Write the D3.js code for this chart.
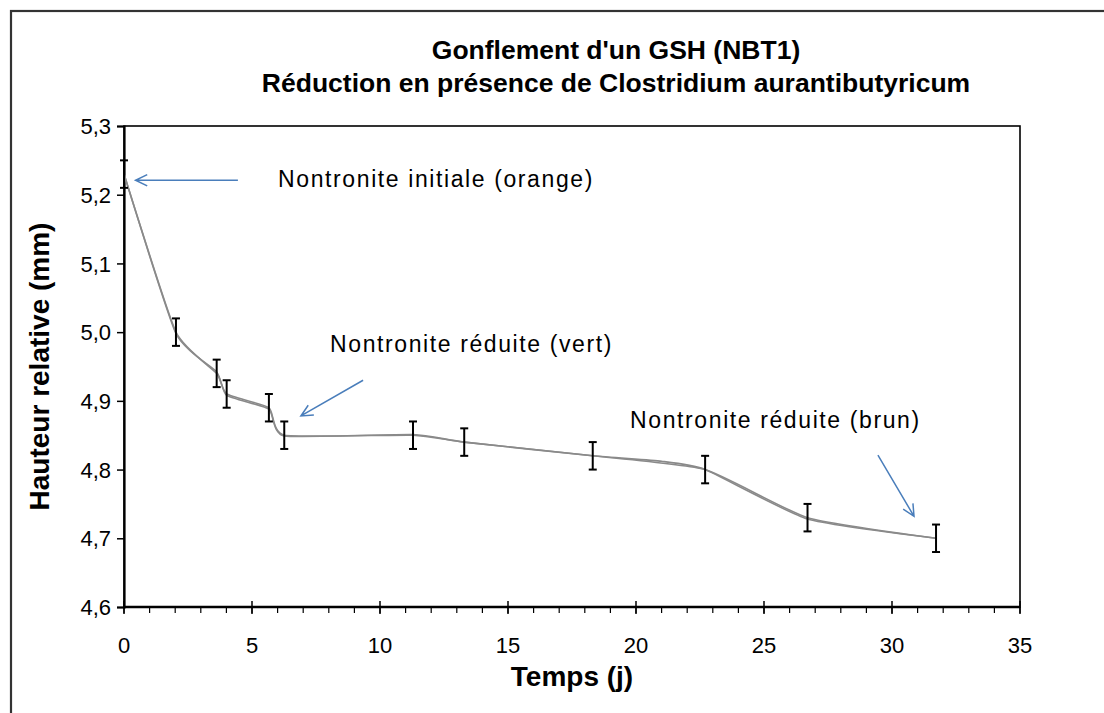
<!DOCTYPE html>
<html>
<head>
<meta charset="utf-8">
<script src="https://cdn.jsdelivr.net/npm/d3@7"></script>
<style>
  body { margin: 0; background: #fff; }
  svg { display: block; }
  text { font-family: "Liberation Sans", Arial, sans-serif; fill: #000; }
</style>
</head>
<body>
<svg id="chart" width="1104" height="713"></svg>
<script>
// Temps (jours) et hauteur relative (mm) des deux mesures
const tempsA   = [0, 2.03, 3.62, 4.01, 5.66, 6.26, 11.29, 13.29, 18.31, 22.7, 26.7, 31.72];
const hauteurA = [5.23, 5.00, 4.94, 4.91, 4.89, 4.85, 4.85, 4.84, 4.82, 4.80, 4.73, 4.70];
const ecartA   = [0.02, 0.02, 0.02, 0.02, 0.02, 0.02, 0.02, 0.02, 0.02, 0.02, 0.02, 0.02];

const tempsB   = [0, 2.03, 3.62, 4.01, 5.66, 6.26, 11.29, 13.29, 18.31, 21.0, 22.7, 26.7, 31.72];
const hauteurB = [5.23, 4.998, 4.942, 4.908, 4.888, 4.849, 4.851, 4.84, 4.82, 4.812, 4.80, 4.728, 4.70];

const xTicks = [0, 5, 10, 15, 20, 25, 30, 35];
const xMinorTicks = d3.range(0, 36, 1);
const yTicks = [4.6, 4.7, 4.8, 4.9, 5.0, 5.1, 5.2, 5.3];

const titre = ["Gonflement d'un GSH (NBT1)", "Réduction en présence de Clostridium aurantibutyricum"];
const titreX = "Temps (j)";
const titreY = "Hauteur relative (mm)";

// Annotations : texte et flèche, en unités des axes
const annotations = [
  { texte: "Nontronite initiale (orange)", tx: 6.02, ty: 5.211, from: [4.45, 5.221], to: [0.45, 5.221] },
  { texte: "Nontronite réduite (vert)",    tx: 8.05, ty: 4.971, from: [9.34, 4.930], to: [6.91, 4.878] },
  { texte: "Nontronite réduite (brun)",    tx: 19.77, ty: 4.861, from: [29.45, 4.821], to: [30.86, 4.732] }
];

const svg = d3.select("#chart");
const W = 1104, H = 713;
const plot = { left: 124, right: 1020, top: 126, bottom: 607 };

const x = d3.scaleLinear().domain([0, 35]).range([plot.left, plot.right]);
const y = d3.scaleLinear().domain([4.6, 5.3]).range([plot.bottom, plot.top]);

// Cadre du graphique
svg.append("rect")
  .attr("x", 11).attr("y", 11)
  .attr("width", W + 50).attr("height", H + 50)
  .attr("fill", "none").attr("stroke", "#333").attr("stroke-width", 2.2);

// Titre
svg.append("text")
  .attr("text-anchor", "middle")
  .attr("font-size", 26.5).attr("font-weight", "bold")
  .selectAll("tspan").data(titre).join("tspan")
  .attr("x", 616).attr("y", (d, i) => 59 + i * 33)
  .text(d => d);

// Bordure de la zone de tracé
svg.append("rect")
  .attr("x", plot.left).attr("y", plot.top)
  .attr("width", plot.right - plot.left).attr("height", plot.bottom - plot.top)
  .attr("fill", "none").attr("stroke", "#000").attr("stroke-width", 1.6);

// Axe Y
const yAxis = d3.axisLeft(y).tickValues(yTicks).tickSize(7).tickPadding(6)
  .tickFormat(d => d3.format(".1f")(d).replace(".", ","));
const gy = svg.append("g").attr("transform", `translate(${plot.left},0)`).call(yAxis);
gy.select(".domain").attr("stroke-width", 2.2);
gy.selectAll(".tick line").attr("stroke-width", 1.5);
gy.selectAll(".tick text").attr("font-size", 22).attr("dy", "0.35em")
  .attr("font-family", "Liberation Sans, Arial, sans-serif");

// Axe X : graduations secondaires vers le bas, principales de part et d'autre
const gx = svg.append("g").attr("transform", `translate(0,${plot.bottom})`);
gx.selectAll("line.minor").data(xMinorTicks).join("line")
  .attr("class", "minor")
  .attr("x1", d => x(d)).attr("x2", d => x(d))
  .attr("y1", 0).attr("y2", 6)
  .attr("stroke", "#000").attr("stroke-width", 1.2);
gx.selectAll("line.major").data(xTicks).join("line")
  .attr("class", "major")
  .attr("x1", d => x(d)).attr("x2", d => x(d))
  .attr("y1", -6).attr("y2", 7)
  .attr("stroke", "#000").attr("stroke-width", 1.5);
gx.append("line")
  .attr("x1", plot.left).attr("x2", plot.right)
  .attr("stroke", "#000").attr("stroke-width", 2.5);
gx.selectAll("text.tick").data(xTicks).join("text")
  .attr("class", "tick")
  .attr("x", d => x(d)).attr("y", 46)
  .attr("text-anchor", "middle").attr("font-size", 22)
  .text(d => d);

// Titres des axes
svg.append("text")
  .attr("x", (plot.left + plot.right) / 2).attr("y", 686)
  .attr("text-anchor", "middle").attr("font-size", 28).attr("font-weight", "bold")
  .text(titreX);
svg.append("text")
  .attr("transform", `translate(49,${(plot.top + plot.bottom) / 2}) rotate(-90)`)
  .attr("text-anchor", "middle").attr("font-size", 28).attr("font-weight", "bold")
  .text(titreY);

// Courbes lissées
const line = d3.line().x(d => x(d[0])).y(d => y(d[1])).curve(d3.curveCardinal.tension(0.5));
const ptsA = tempsA.map((t, i) => [t, hauteurA[i]]);
const ptsB = tempsB.map((t, i) => [t, hauteurB[i]]);
svg.append("path").datum(ptsB).attr("d", line)
  .attr("fill", "none").attr("stroke", "#8a8a8a").attr("stroke-width", 1.6);
svg.append("path").datum(ptsA).attr("d", line)
  .attr("fill", "none").attr("stroke", "#8a8a8a").attr("stroke-width", 1.6);

// Barres d'erreur
const eb = svg.append("g").attr("stroke", "#000").attr("stroke-width", 2);
tempsA.forEach((t, i) => {
  const cx = x(t), y1 = y(hauteurA[i] - ecartA[i]), y2 = y(hauteurA[i] + ecartA[i]);
  eb.append("line").attr("x1", cx).attr("x2", cx).attr("y1", y1).attr("y2", y2);
  eb.append("line").attr("x1", cx - 4).attr("x2", cx + 4).attr("y1", y1).attr("y2", y1);
  eb.append("line").attr("x1", cx - 4).attr("x2", cx + 4).attr("y1", y2).attr("y2", y2);
});

// Annotations fléchées
const ga = svg.append("g");
annotations.forEach(a => {
  ga.append("text").attr("x", x(a.tx)).attr("y", y(a.ty))
    .attr("font-size", 23).attr("letter-spacing", 1.6).text(a.texte);
  const x1 = x(a.from[0]), y1 = y(a.from[1]), x2 = x(a.to[0]), y2 = y(a.to[1]);
  const ang = Math.atan2(y2 - y1, x2 - x1), L = 13, spread = 0.45;
  const p = d3.path();
  p.moveTo(x1, y1); p.lineTo(x2, y2);
  p.moveTo(x2 - L * Math.cos(ang - spread), y2 - L * Math.sin(ang - spread));
  p.lineTo(x2, y2);
  p.lineTo(x2 - L * Math.cos(ang + spread), y2 - L * Math.sin(ang + spread));
  ga.append("path").attr("d", p.toString())
    .attr("fill", "none").attr("stroke", "#4a7ebb").attr("stroke-width", 1.5);
});
</script>
</body>
</html>
